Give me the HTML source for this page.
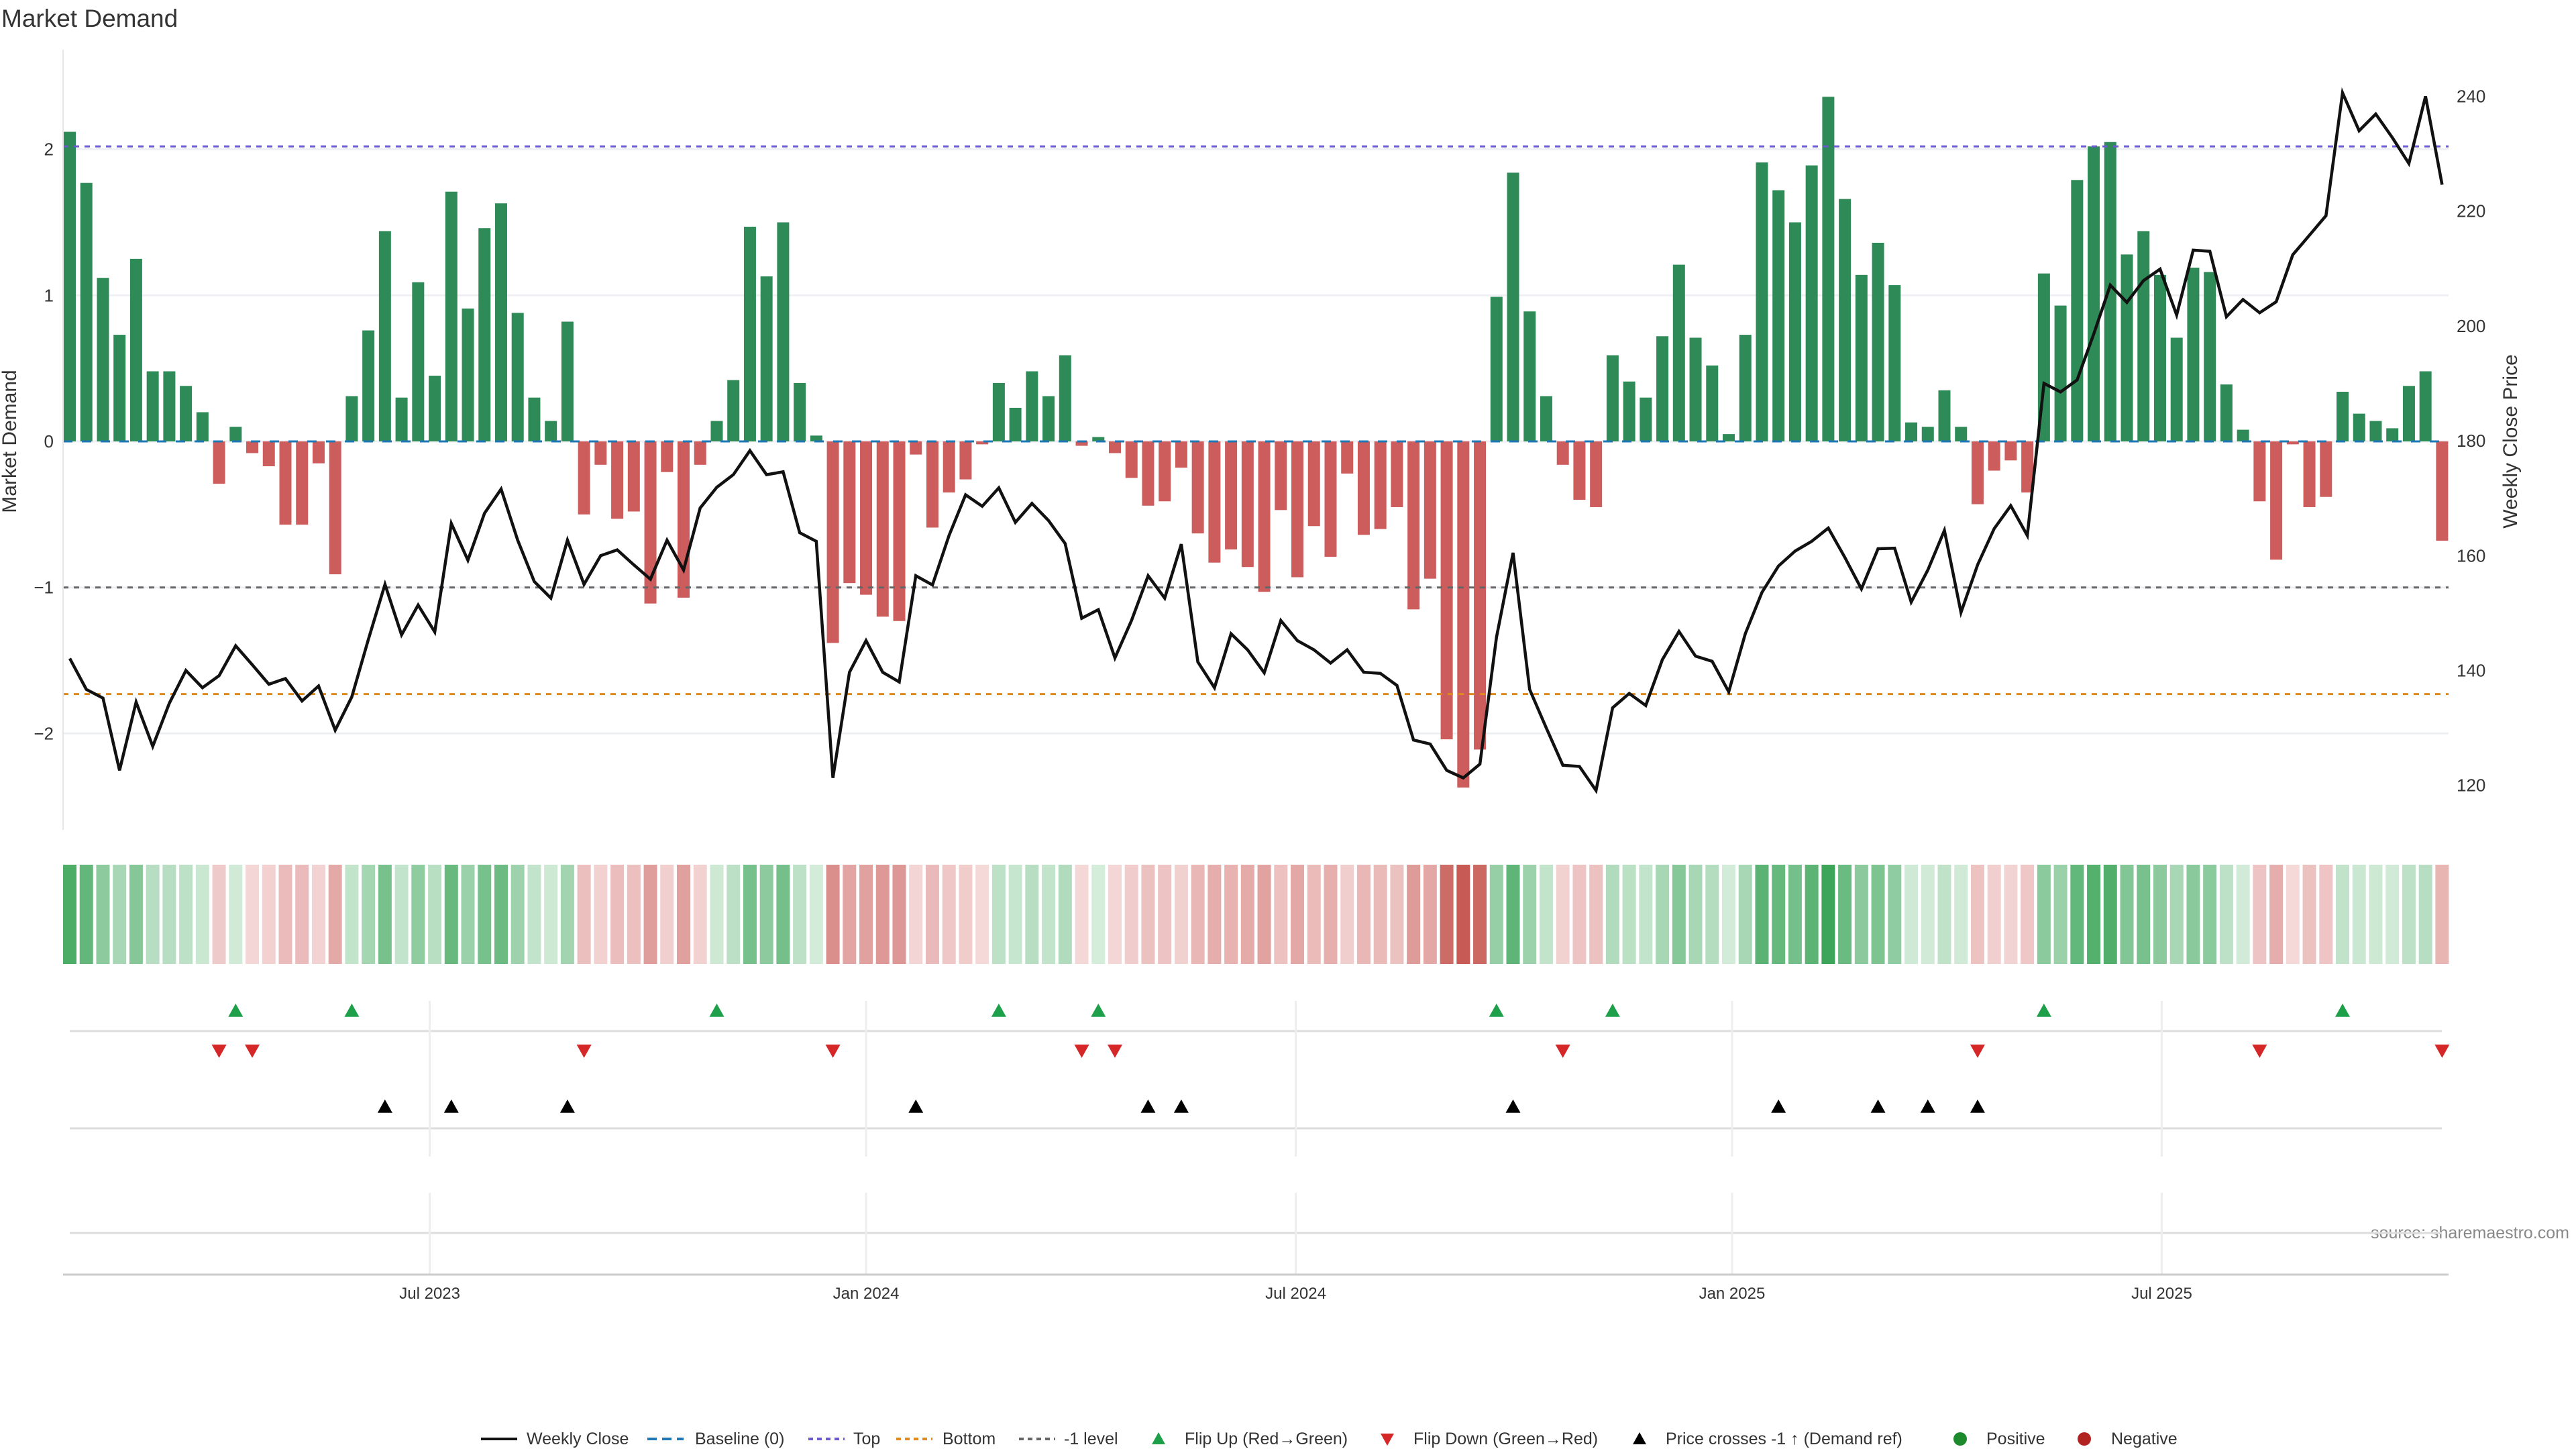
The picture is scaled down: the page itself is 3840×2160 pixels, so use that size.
<!DOCTYPE html>
<html><head><meta charset="utf-8"><title>Market Demand</title>
<style>
html,body{margin:0;padding:0;background:#fff;}
svg{display:block;font-family:"Liberation Sans","DejaVu Sans",sans-serif;}
</style></head>
<body>
<svg id="chart" width="3840" height="2160" viewBox="0 0 3840 2160" xmlns="http://www.w3.org/2000/svg">
<rect x="0" y="0" width="3840" height="2160" fill="#fff"/>
<text x="2" y="40" font-size="37" fill="#333">Market Demand</text>
<text transform="translate(24,658) rotate(-90)" text-anchor="middle" font-size="30" fill="#333">Market Demand</text>
<text transform="translate(3752,658) rotate(-90)" text-anchor="middle" font-size="30" fill="#333">Weekly Close Price</text>
<text x="3830" y="1846" text-anchor="end" font-size="25" fill="#888">source: sharemaestro.com</text>
<g id="grid"></g><g id="bars"></g><g id="lines"></g><g id="heat"></g><g id="marks"></g><g id="axes"></g><g id="legend"></g>
</svg>
<script>
const demand=[2.12,1.77,1.12,0.73,1.25,0.48,0.48,0.38,0.20,-0.29,0.10,-0.08,-0.17,-0.57,-0.57,-0.15,-0.91,0.31,0.76,1.44,0.30,1.09,0.45,1.71,0.91,1.46,1.63,0.88,0.30,0.14,0.82,-0.50,-0.16,-0.53,-0.48,-1.11,-0.21,-1.07,-0.16,0.14,
0.42,1.47,1.13,1.50,0.40,0.04,-1.38,-0.97,-1.05,-1.20,-1.23,-0.09,-0.59,-0.35,-0.26,-0.02,0.40,0.23,0.48,0.31,0.59,-0.03,0.03,-0.08,-0.25,-0.44,-0.41,-0.18,-0.63,-0.83,-0.74,-0.86,-1.03,-0.47,-0.93,-0.58,-0.79,-0.22,-0.64,-0.60,
-0.45,-1.15,-0.94,-2.04,-2.37,-2.11,0.99,1.84,0.89,0.31,-0.16,-0.40,-0.45,0.59,0.41,0.30,0.72,1.21,0.71,0.52,0.05,0.73,1.91,1.72,1.50,1.89,2.36,1.66,1.14,1.36,1.07,0.13,0.10,0.35,0.10,-0.43,-0.20,-0.13,-0.35,1.15,
0.93,1.79,2.02,2.05,1.28,1.44,1.14,0.71,1.19,1.16,0.39,0.08,-0.41,-0.81,-0.02,-0.45,-0.38,0.34,0.19,0.14,0.09,0.38,0.48,-0.68];
const price=[142.1,136.7,135.2,122.6,134.5,126.8,134.3,140.0,137.0,139.1,144.3,141.0,137.6,138.6,134.7,137.3,129.6,135.4,145.4,155.0,146.2,151.4,146.7,165.6,159.2,167.4,171.6,162.7,155.5,152.6,162.7,155.0,160.0,161.0,158.4,155.9,162.7,157.5,168.3,171.9,
174.1,178.3,174.1,174.6,164.0,162.5,121.3,139.7,145.2,139.7,138.0,156.5,154.9,163.5,170.6,168.6,171.8,165.8,169.1,166.1,162.1,149.1,150.6,142.2,148.7,156.5,152.6,162.0,141.5,137.0,146.4,143.6,139.6,148.7,145.2,143.6,141.3,143.6,139.7,139.5,
137.4,127.9,127.2,122.6,121.3,123.7,145.8,160.5,136.7,130.0,123.5,123.3,119.1,133.5,136.0,133.9,141.9,146.8,142.5,141.6,136.3,146.4,153.6,158.2,160.8,162.5,164.8,159.7,154.2,161.2,161.3,151.9,157.5,164.4,150.1,158.4,164.7,168.7,163.5,190.0,
188.5,190.6,198.6,207.1,204.1,207.9,209.9,201.9,213.2,213.0,201.6,204.6,202.3,204.2,212.4,215.8,219.2,240.6,234.0,236.9,232.8,228.3,240.0,224.6];
const tickLabels=["Jul 2023","Jan 2024","Jul 2024","Jan 2025","Jul 2025"];
const tickWeeks=[21.7,48.0,73.9,100.2,126.1];
const leftTicks=[-2,-1,0,1,2];
const rightTicks=[120,140,160,180,200,220,240];
const topLevel=[2.02];
const bottomLevel=[-1.73];
const minusLevel=[-1];
const priceRef=[154.7];

const NS="http://www.w3.org/2000/svg";
const X0=104, STEP=24.73;
function xs(i){return X0+i*STEP;}
function yD(v){return 658-v*217.7;}
function yP(p){return 143.5+(240-p)*8.56;}
function mk(tag,attrs,parent,txt){const e=document.createElementNS(NS,tag);for(const k in attrs)e.setAttribute(k,attrs[k]);if(txt!==undefined)e.textContent=txt;parent.appendChild(e);return e;}
const G=id=>document.getElementById(id);
const grid=G('grid'),bars=G('bars'),lines=G('lines'),heat=G('heat'),marks=G('marks'),axes=G('axes'),legend=G('legend');
const L=94,R=3650;

// gridlines + left ticks
leftTicks.forEach(t=>{
  const g=mk('line',{x1:L,x2:R,y1:yD(t),y2:yD(t),stroke:'#eef0f3','stroke-width':3},grid);
  
  
  const tx=mk('text',{x:80,y:yD(t)+9,'text-anchor':'end','font-size':26,fill:'#333'},axes,t<0?'\u2212'+Math.abs(t):String(t));
  
  
});
rightTicks.forEach(t=>{
  const tx=mk('text',{x:3662,y:yP(t)+9,'font-size':26,fill:'#333'},axes,String(t));
  
  
});
const spine=mk('line',{x1:L,x2:L,y1:74,y2:1237,stroke:'#e6e6e6','stroke-width':2},axes);



// bars
demand.forEach((v,i)=>{
  const y=Math.min(yD(0),yD(v)),h=Math.abs(yD(v)-yD(0));
  const r=mk('rect',{x:xs(i)-9,y:y,width:18,height:Math.max(h,1),fill:v>=0?'#2e8b57':'#cd5c5c'},bars);
  
  
});
// reference lines
function hline(v,col,dash,name){const l=mk('line',{x1:L,x2:R,y1:yD(v),y2:yD(v),stroke:col,'stroke-width':3,'stroke-dasharray':dash},lines);
  
  }
hline(0,'#1f77b4','14 14','baseline-line');
hline(topLevel[0],'#6a5acd','8 8','top-line');
hline(bottomLevel[0],'#e08a1e','8 8','bottom-line');
hline(minusLevel[0],'#666','8 8','minus-one-level-line');
// price line
const pl=mk('polyline',{points:price.map((p,i)=>xs(i).toFixed(1)+','+yP(p).toFixed(1)).join(' '),fill:'none',stroke:'#111','stroke-width':4.5,'stroke-linejoin':'miter'},lines);



// heatmap
function mix(a,b,t){return 'rgb('+a.map((c,k)=>Math.round(c+(b[k]-c)*t)).join(',')+')';}
demand.forEach((v,i)=>{
  const t=Math.min(1,Math.abs(v)/2.4);
  const col=v>=0?mix([214,237,220],[58,164,88],t):mix([245,218,218],[198,88,82],t);
  const r=mk('rect',{x:xs(i)-10,y:1289,width:20,height:148,fill:col},heat);
  
  
});

// lower panels
[[1537],[1682],[1838]].forEach(a=>{const l=mk('line',{x1:104,x2:3640,y1:a[0],y2:a[0],stroke:'#ddd','stroke-width':3},grid);
  
  });
const xa=mk('line',{x1:L,x2:R,y1:1900,y2:1900,stroke:'#ccc','stroke-width':3},axes);


tickWeeks.forEach((w,k)=>{
  const x=xs(w);
  const g1=mk('line',{x1:x,x2:x,y1:1492,y2:1724,stroke:'#eee','stroke-width':3},grid);
  
  
  const g2=mk('line',{x1:x,x2:x,y1:1778,y2:1900,stroke:'#eee','stroke-width':3},grid);
  
  
  const t=mk('text',{x:x,y:1936,'text-anchor':'middle','font-size':24,fill:'#333'},axes,tickLabels[k]);
  
  
});
function tri(x,y,up,col,name){
  const s=11;
  const pts=up?[[x,y-s],[x-s,y+s*0.8],[x+s,y+s*0.8]]:[[x,y+s],[x-s,y-s*0.8],[x+s,y-s*0.8]];
  const p=mk('polygon',{points:pts.map(q=>q.join(',')).join(' '),fill:col},marks);
  
  
}
for(let i=1;i<demand.length;i++){
  if(demand[i-1]<0&&demand[i]>=0)tri(xs(i),1507,true,'#1ea04a','flip-up-marker');
  if(demand[i-1]>=0&&demand[i]<0)tri(xs(i),1566,false,'#d62728','flip-down-marker');
  if(price[i-1]<priceRef[0]&&price[i]>=priceRef[0])tri(xs(i),1650,true,'#000','price-cross-marker');
}

// legend
const LY=2145;
function lgText(x,s){const t=mk('text',{x:x,y:LY+8,'font-size':25,fill:'#333'},legend,s);
  
  }
function lgLine(x,col,dash,name){const l=mk('line',{x1:x,x2:x+54,y1:LY,y2:LY,stroke:col,'stroke-width':4,'stroke-dasharray':dash},legend);
  
  }
lgLine(717,'#111','none','legend-weekly-close');lgText(785,'Weekly Close');
lgLine(965,'#1f77b4','14 8','legend-baseline');lgText(1036,'Baseline (0)');
lgLine(1205,'#6a5acd','7 6','legend-top');lgText(1272,'Top');
lgLine(1336,'#e08a1e','7 6','legend-bottom');lgText(1405,'Bottom');
lgLine(1519,'#666','7 6','legend-minus-one');lgText(1586,'-1 level');
function lgTri(x,up,col,name){const s=10;const pts=up?[[x,LY-s],[x-s,LY+s*0.8],[x+s,LY+s*0.8]]:[[x,LY+s],[x-s,LY-s*0.8],[x+s,LY-s*0.8]];
  const p=mk('polygon',{points:pts.map(q=>q.join(',')).join(' '),fill:col},legend);
  
  }
lgTri(1727,true,'#1ea04a','legend-flip-up');lgText(1766,'Flip Up (Red\u2192Green)');
lgTri(2068,false,'#d62728','legend-flip-down');lgText(2107,'Flip Down (Green\u2192Red)');
lgTri(2444,true,'#000','legend-price-cross');lgText(2483,'Price crosses -1 \u2191 (Demand ref)');
function lgDot(x,col,name){const c=mk('circle',{cx:x,cy:LY,r:10,fill:col},legend);
  
  }
lgDot(2922,'#1e8a2e','legend-positive');lgText(2961,'Positive');
lgDot(3107,'#b22222','legend-negative');lgText(3147,'Negative');
</script>
</body></html>
